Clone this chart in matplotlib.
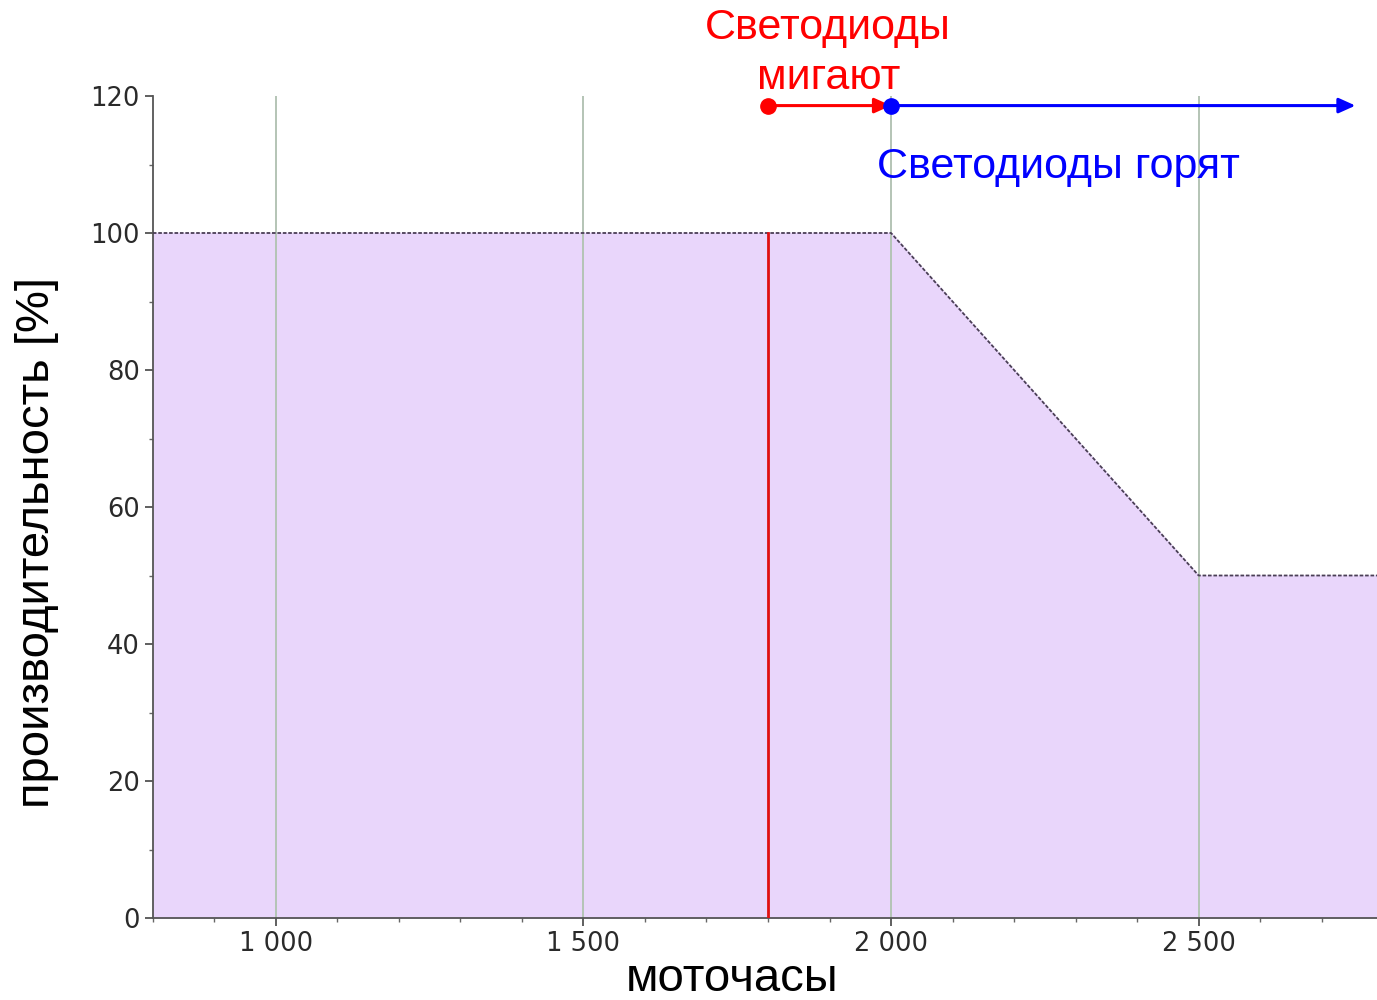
import matplotlib
matplotlib.use("Agg")
import matplotlib.pyplot as plt
from matplotlib.ticker import FuncFormatter, MultipleLocator

# Data
hours = [800, 2000, 2500, 2790]
performance = [100, 100, 50, 50]
x_ticks = [1000, 1500, 2000, 2500]
y_ticks = [0, 20, 40, 60, 80, 100, 120]
red_line_x = 1800
red_line_top = 100
blink_start, blink_end = 1800, 2000
on_start, on_end = 2000, 2755
arrow_y = 118.6

fig = plt.figure(figsize=(13.77, 10), dpi=100)
ax = fig.add_axes([0.111, 0.082, 0.889, 0.822])
ax.set_xlim(800, 2790)
ax.set_ylim(0, 120)

ax.fill_between(hours, performance, 0, color="#e9d6fb", zorder=1)
ax.plot(hours, performance, color="#4a3f55", lw=1.3, ls=(0, (2, 1)), zorder=3)

for xt in x_ticks:
    ax.axvline(xt, color="#b4c4b6", lw=1.4, zorder=2)

ax.plot([red_line_x, red_line_x], [0, red_line_top], color="#e01010", lw=2, zorder=4)

# arrows
ax.annotate("", xy=(blink_end, arrow_y), xytext=(blink_start, arrow_y),
            arrowprops=dict(arrowstyle="-|>,head_length=1.0,head_width=0.45", color="red", lw=2.2,
                            shrinkA=0, shrinkB=0), annotation_clip=False, zorder=5)
ax.plot([blink_start], [arrow_y], "o", color="red", ms=11, zorder=6, clip_on=False)
ax.annotate("", xy=(on_end, arrow_y), xytext=(on_start, arrow_y),
            arrowprops=dict(arrowstyle="-|>,head_length=1.0,head_width=0.45", color="blue", lw=2.2,
                            shrinkA=0, shrinkB=0), annotation_clip=False, zorder=5)
ax.plot([on_start], [arrow_y], "o", color="blue", ms=11, zorder=6, clip_on=False)

ax.text(1898, 130.0, "Светодиоды", color="red", fontsize=31, family="Liberation Sans",
        ha="center", va="center", clip_on=False)
ax.text(1898, 122.6, "мигают", color="red", fontsize=31, family="Liberation Sans",
        ha="center", va="center", clip_on=False)
ax.text(1978, 109.6, "Светодиоды горят", color="blue", fontsize=31, family="Liberation Sans",
        ha="left", va="center", clip_on=False)

ax.set_xticks(x_ticks)
ax.set_yticks(y_ticks)
ax.xaxis.set_minor_locator(MultipleLocator(100))
ax.yaxis.set_minor_locator(MultipleLocator(10))
ax.xaxis.set_major_formatter(FuncFormatter(lambda v, p: f"{int(v):,}".replace(",", " ")))
ax.tick_params(axis="both", which="major", labelsize=18.5, labelcolor="#2a2a2a", color="#444444",
               length=6, width=1.2, direction="out")
ax.tick_params(axis="both", which="minor", color="#666666", length=3, width=1, direction="out")

for s in ["top", "right"]:
    ax.spines[s].set_visible(False)
for s in ["left", "bottom"]:
    ax.spines[s].set_color("#555555")
    ax.spines[s].set_linewidth(1.3)

ax.set_xlabel("моточасы", fontsize=34, family="Liberation Sans")
ax.set_ylabel("производительность [%]", fontsize=34, family="Liberation Sans")
ax.xaxis.set_label_coords(0.473, -0.048)
ax.yaxis.set_label_coords(-0.077, 0.457)

fig.savefig("out.png", dpi=100)
